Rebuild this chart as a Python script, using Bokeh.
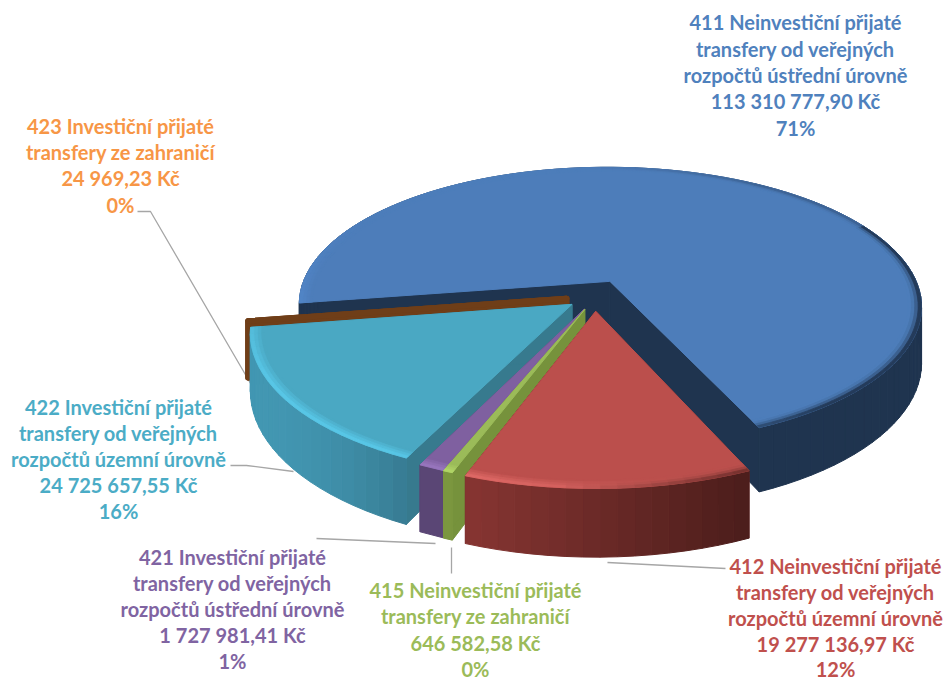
import numpy as np
from bokeh.plotting import figure
from bokeh.models import ColumnDataSource, Range1d
from bokeh.core.properties import value
from bokeh.embed import file_html
from bokeh.resources import INLINE

codes = ["411", "412", "415", "421", "422", "423"]
titles = [
    ["411 Neinvestiční přijaté", "transfery od veřejných", "rozpočtů ústřední úrovně"],
    ["412 Neinvestiční přijaté", "transfery od veřejných", "rozpočtů územní úrovně"],
    ["415 Neinvestiční přijaté", "transfery ze zahraničí"],
    ["421 Investiční přijaté", "transfery od veřejných", "rozpočtů ústřední úrovně"],
    ["422 Investiční přijaté", "transfery od veřejných", "rozpočtů územní úrovně"],
    ["423 Investiční přijaté", "transfery ze zahraničí"],
]
amounts = [113310777.90, 19277136.97, 646582.58, 1727981.41, 24725657.55, 24969.23]
percents = ["71%", "12%", "0%", "1%", "16%", "0%"]

label_colors = ["#4f81bd", "#c0504d", "#9bbb59", "#8064a2", "#4bacc6", "#f79646"]
top_colors = ["#4d7dba", "#bb4f4c", "#9bbb59", "#7f60a0", "#4aa8c3", "#6f3e18"]
rim_colors = ["#5288cc", "#e46d6a", "#b4d868", "#9a78c0", "#58c6e6", "#6f3e18"]
wall_colors = ["#1f344f", "#6e2b29", "#76923c", "#5a4675", "#377a8e", "#6f3e18"]
side_left = ["#1f344f", "#873532", "#7f9c42", "#5d4878", "#4297b2", "#6f3e18"]
side_right = ["#1f344f", "#4b1d1b", "#76923c", "#584472", "#377b92", "#6f3e18"]
explode = [0.118, 0.118, 0.105, 0.105, 0.105, 0.09]
nudge_x = [0, 2, 4, 5, 6, 2]
nudge_y = [2, 1, 2, 2, 2, 3]
label_x = [795, 835, 475, 232, 118, 120]
label_y = [[21, 48, 74, 100, 127], [565, 591, 617, 643, 668], [589, 615, 642, 668],
           [556, 582, 608, 634, 660], [406, 432, 458, 484, 510], [125, 151, 177, 204]]
leaders = [
    ([607, 725], [562, 568]),
    ([451, 451], [547, 573]),
    ([316, 435], [538, 543]),
    ([230, 246, 293], [465, 465, 471]),
    ([137, 150, 253], [211, 211, 388]),
]

CX, CY, A, B, K, H = 592.0, 293.0, 312.0, 139.0, 0.178, 55.0
START = -99.0


def hexrgb(c):
    return np.array([int(c[i:i + 2], 16) for i in (1, 3, 5)], float)


def mix(a, b, t):
    t = float(np.clip(t, 0, 1))
    c = hexrgb(a) * (1 - t) + hexrgb(b) * t
    return "#%02x%02x%02x" % tuple(int(round(x)) for x in c)


cur = [0.0, 0.0]


def proj(u, v, drop=0.0):
    u, v = np.asarray(u, float), np.asarray(v, float)
    w = 1 - K * v
    return CX + cur[0] + A * u / w, CY + cur[1] + B * v / w + drop * H / w


polys = {"xs": [], "ys": [], "fc": [], "lw": []}


def add(x, y, c, lw=1.0):
    polys["xs"].append(list(map(float, x)))
    polys["ys"].append(list(map(float, y)))
    polys["fc"].append(c)
    polys["lw"].append(lw)


total = sum(amounts)
spans = [a / total * 360 for a in amounts]
starts = START + np.concatenate([[0], np.cumsum(spans)[:-1]])


def slice_parts(i):
    s, span, e = starts[i], spans[i], explode[i]
    m = np.radians(s + span / 2)
    ou, ov = e * np.sin(m), -e * np.cos(m)
    n = max(2, int(span / 2.5) + 1)
    phi = np.radians(np.linspace(s, s + span, n))
    return ou, ov, phi


def draw_slice(i):
    cur[0], cur[1] = nudge_x[i], nudge_y[i]
    ou, ov, phi = slice_parts(i)
    au, av = ou, ov
    ru, rv = ou + np.sin(phi), ov - np.cos(phi)
    lw = 1.0
    if codes[i] == "423":
        lw = 5.5
    for k in ([0, -1]):
        xt, yt = proj([au, ru[k]], [av, rv[k]])
        xb, yb = proj([au, ru[k]], [av, rv[k]], 1.0)
        add([xt[0], xt[1], xb[1], xb[0]], [yt[0], yt[1], yb[1], yb[0]], wall_colors[i], lw)
    xlo, xhi = proj(ru, rv)[0].min(), proj(ru, rv)[0].max()
    for j in range(len(phi) - 1):
        xt, yt = proj(ru[j:j + 2], rv[j:j + 2])
        xb, yb = proj(ru[j:j + 2], rv[j:j + 2], 1.0)
        t = (xt.mean() - xlo) / max(xhi - xlo, 1)
        if codes[i] == "422":
            t = t ** 2
        add([xt[0], xt[1], xb[1], xb[0]], [yt[0], yt[1], yb[1], yb[0]],
            mix(side_left[i], side_right[i], t), lw)
    x, y = proj(np.r_[au, ru], np.r_[av, rv])
    add(x, y, top_colors[i], lw)
    if codes[i] == "423":
        return
    radii = np.linspace(0.958, 1.0, 5)
    for b in range(4):
        f = b / 3
        for j in range(len(phi) - 1):
            p0, p1 = phi[j], phi[j + 1]
            pm = (p0 + p1) / 2
            um, vm = np.sin(pm), -np.cos(pm)
            r0, r1 = radii[b], radii[b + 1]
            uu = [ou + r0 * np.sin(p0), ou + r0 * np.sin(p1), ou + r1 * np.sin(p1), ou + r1 * np.sin(p0)]
            vv = [ov - r0 * np.cos(p0), ov - r0 * np.cos(p1), ov - r1 * np.cos(p1), ov - r1 * np.cos(p0)]
            x, y = proj(uu, vv)
            glow = np.clip((0.5 - um) / 1.0, 0, 1) * np.clip(vm + 0.5, 0, 1)
            c = mix(top_colors[i], rim_colors[i], glow * f)
            dark = np.clip((um + 0.1) / 0.7, 0, 1) * (f ** 2) * (0.9 if vm > -0.45 else 0.35)
            c = mix(c, side_right[i], dark)
            add(x, y, c, 0.8)


for i in [0, 5, 4, 3, 2, 1]:
    draw_slice(i)

p = figure(width=946, height=679, output_backend="svg", toolbar_location=None,
           x_range=Range1d(0, 946), y_range=Range1d(679, 0), min_border=0)
p.axis.visible = False
p.grid.visible = False
p.outline_line_color = None
p.background_fill_color = "#ffffff"

for lx, ly in leaders:
    p.line(lx, ly, line_color="#a6a6a6", line_width=1.3)

p.patches("xs", "ys", source=ColumnDataSource(polys), fill_color="fc", line_color="fc", line_width="lw",
          line_join="round")

tx, ty, tt, tc = [], [], [], []
for i in range(len(codes)):
    amount = f"{amounts[i]:,.2f}".replace(",", " ").replace(".", ",") + " Kč"
    lines = titles[i] + [amount, percents[i]]
    for line, yy in zip(lines, label_y[i]):
        tx.append(label_x[i]); ty.append(yy); tt.append(line); tc.append(label_colors[i])
p.text(tx, ty, text=tt, text_color=tc, text_align="center", text_baseline="middle",
       text_font=value("Lato"), text_font_style="bold", text_font_size="20px")

open("out.html", "w").write(file_html(p, INLINE))
